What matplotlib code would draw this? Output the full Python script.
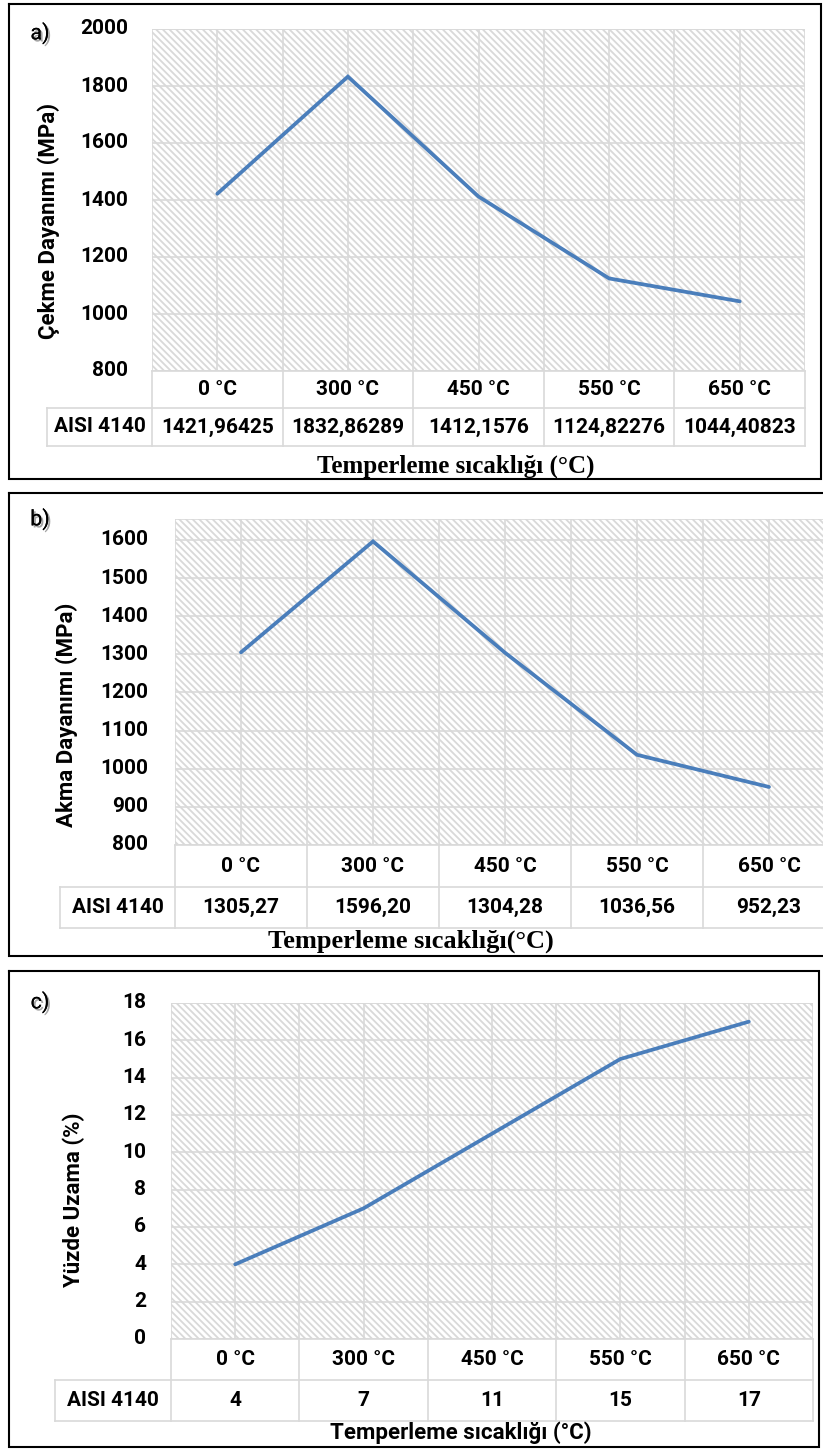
import matplotlib
matplotlib.use("Agg")
import matplotlib.pyplot as plt
from matplotlib.patches import Rectangle
import matplotlib.patheffects as pe

# ---------------- data ----------------
categories = ['0 °C', '300 °C', '450 °C', '550 °C', '650 °C']
series_name = 'AISI 4140'
cekme = [1421.96425, 1832.86289, 1412.1576, 1124.82276, 1044.40823]
cekme_labels = ['1421,96425', '1832,86289', '1412,1576', '1124,82276', '1044,40823']
akma = [1305.27, 1596.20, 1304.28, 1036.56, 952.23]
akma_labels = ['1305,27', '1596,20', '1304,28', '1036,56', '952,23']
uzama = [4, 7, 11, 15, 17]
uzama_labels = ['4', '7', '11', '15', '17']

cekme_ticks = [800, 1000, 1200, 1400, 1600, 1800, 2000]
akma_ticks = [800, 900, 1000, 1100, 1200, 1300, 1400, 1500, 1600]
uzama_ticks = [0, 2, 4, 6, 8, 10, 12, 14, 16, 18]

# ---------------- style ----------------
W, H = 823, 1452
plt.rcParams['hatch.linewidth'] = 1.3
SANS = ['Roboto', 'DejaVu Sans']
SERIF = ['Liberation Serif', 'DejaVu Serif']
GRID = '#d9d9d9'
HATCH = '#d9d9d9'
LINE = '#4a7ebb'
FS = 15

fig = plt.figure(figsize=(W / 100, H / 100), dpi=100)
ov = fig.add_axes([0, 0, 1, 1], zorder=5)
ov.set_xlim(0, W)
ov.set_ylim(H, 0)
ov.axis('off')
ov.patch.set_alpha(0)


def panel(values, labels, ticks, ylim, plot_box, table_left, hdr_bot, data_bot,
          box, letter, letter_y, ylabel, ylabel_xy, ytick_right, xlabel, xlabel_xy,
          xlabel_font, xlabel_size):
    l, t, r, b = plot_box
    ax = fig.add_axes([l / W, 1 - b / H, (r - l) / W, (b - t) / H], zorder=1)
    ax.set_xlim(-0.5, len(categories) - 0.5)
    ax.set_ylim(*ylim)
    ax.add_patch(Rectangle((0, 0), 1, 1, transform=ax.transAxes, facecolor='white',
                           edgecolor=HATCH, hatch='\\' * 5, lw=0, zorder=0))
    for yv in ticks:
        ax.axhline(yv, color=GRID, lw=1.2, zorder=1)
    ax.axhline(ylim[1], color=GRID, lw=1.2, zorder=1)
    for i in range(len(categories)):
        ax.axvline(i, color=GRID, lw=1.2, zorder=1)
        ax.axvline(i - 0.5, color=GRID, lw=1.2, zorder=1)
    ax.axvline(len(categories) - 0.5, color=GRID, lw=1.2, zorder=1)
    ax.plot(range(len(values)), values, color=LINE, lw=2.7, zorder=3,
            solid_capstyle='round', solid_joinstyle='miter')
    ax.set_xticks([])
    ax.set_yticks(ticks)
    ax.set_yticklabels([])
    ax.tick_params(length=0)
    for s in ax.spines.values():
        s.set_visible(False)
    # y tick labels
    for yv in ticks:
        ypx = t + (ylim[1] - yv) / (ylim[1] - ylim[0]) * (b - t)
        ov.text(ytick_right, ypx, f'{yv}', ha='right', va='center', fontsize=FS,
                fontweight='bold', family=SANS)
    # table
    n = len(categories)
    cw = (r - l) / n
    ov.plot([l, r], [b, b], color=GRID, lw=1.2)
    ov.plot([table_left, r], [hdr_bot, hdr_bot], color=GRID, lw=1.2)
    ov.plot([table_left, r], [data_bot, data_bot], color=GRID, lw=1.2)
    ov.plot([table_left, table_left], [hdr_bot, data_bot], color=GRID, lw=1.2)
    for i in range(n + 1):
        x = l + i * cw
        ov.plot([x, x], [b, data_bot], color=GRID, lw=1.2)
    for i in range(n):
        cx = l + (i + 0.5) * cw
        ov.text(cx, (b + hdr_bot) / 2, categories[i], ha='center', va='center',
                fontsize=FS, fontweight='bold', family=SANS)
        ov.text(cx, (hdr_bot + data_bot) / 2, labels[i], ha='center', va='center',
                fontsize=FS, fontweight='bold', family=SANS)
    ov.text((table_left + l) / 2, (hdr_bot + data_bot) / 2, series_name, ha='center',
            va='center', fontsize=FS, fontweight='bold', family=SANS)
    # outer box
    bl, bt, br, bb = box
    ov.plot([bl, br, br, bl, bl], [bt, bt, bb, bb, bt], color='black', lw=1.5,
            solid_joinstyle='miter')
    # labels
    ov.text(40, letter_y, letter, ha='center', va='center', fontsize=15.5,
            family=SANS,
            path_effects=[pe.withSimplePatchShadow(offset=(1.5, -1.5), alpha=0.35),
                          pe.Normal()])
    ov.text(ylabel_xy[0], ylabel_xy[1], ylabel, rotation=90, ha='center', va='center',
            fontsize=16, fontweight='bold', family=SANS)
    fam = SERIF if xlabel_font == 'serif' else SANS
    ov.text(xlabel_xy[0], xlabel_xy[1], xlabel, ha='center', va='center',
            fontsize=xlabel_size, fontweight='bold', family=fam)


panel(cekme, cekme_labels, cekme_ticks, (800, 2000), (152, 29, 805, 371), 47, 408, 446,
      (9, 4, 821, 479), 'a)', 33, 'Çekme Dayanımı (MPa)', (49, 221), 128,
      'Temperleme sıcaklığı (°C)', (456, 466), 'serif', 18)
panel(akma, akma_labels, akma_ticks, (800, 1655), (175, 519, 835, 845), 60, 887, 928,
      (9, 493, 830, 956), 'b)', 519, 'Akma Dayanımı (MPa)', (67, 715), 148,
      'Temperleme sıcaklığı(°C)', (411, 941), 'serif', 19)
panel(uzama, uzama_labels, uzama_ticks, (0, 18), (171, 1003, 813, 1339), 55, 1380, 1421,
      (9, 971, 819, 1447), 'c)', 1002, 'Yüzde Uzama (%)', (74, 1200), 146,
      'Temperleme sıcaklığı (°C)', (461, 1433), 'sans', 16)

fig.savefig('out.png', dpi=100)
